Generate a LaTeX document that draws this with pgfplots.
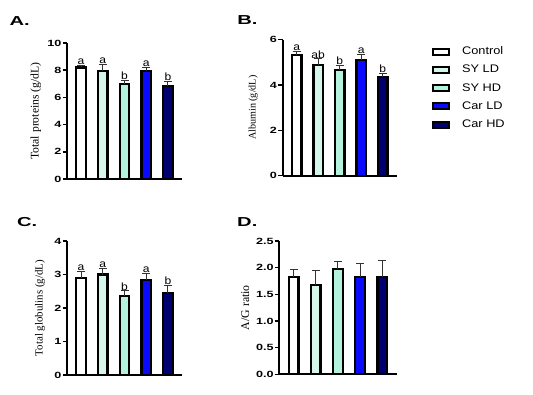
\documentclass[border=0pt]{standalone}
\usepackage{fontspec}
\setmainfont{Liberation Serif}
\newfontfamily\arial{Liberation Sans}
\newfontfamily\arialw[FakeStretch=1.4]{Liberation Sans}
\newfontfamily\arialp[FakeStretch=1.55]{Liberation Sans}
\newfontfamily\ariall[FakeStretch=1.16]{Liberation Sans}
\newfontfamily\arialt[FakeStretch=1.15]{Liberation Sans}
\usepackage{pgfplots}
\pgfplotsset{compat=1.18}
\definecolor{syld}{HTML}{D4F7EA}
\definecolor{syhd}{HTML}{B3F2DD}
\definecolor{carld}{HTML}{0A0AFF}
\definecolor{carhd}{HTML}{000070}
\tikzset{plab/.style={anchor=west, inner sep=0pt, font=\arialp\bfseries\fontsize{13}{13}\selectfont}}
\pgfplotsset{
 panel/.style={
  scale only axis, width=115pt, height=136pt, anchor=south west,
  axis lines*=left, axis line style={line width=1.7pt,-},
  xmin=-0.65, xmax=4.65, ymin=0, xtick=\empty,
  ytick style={line width=1.5pt, black}, major tick length=4.5pt, tick align=outside,
  tick label style={font=\arialw\bfseries\fontsize{9}{9}\selectfont},
  /pgf/number format/assume math mode=true,
  yticklabel style={inner sep=1pt},
  ylabel style={anchor=center},
  clip=false,
  legend image code/.code={\draw[##1, line width=2pt] (0pt,-3pt) rectangle (16pt,3pt);},
 },
 bar/.style={ybar, bar width=9.5pt, bar shift=0pt, draw=black, line width=2.2pt,
  error bars/y dir=plus, error bars/y explicit,
  error bars/error bar style={line width=1pt, black!80},
  error bars/error mark options={rotate=90, line width=1pt, mark size=4pt, black!80}},
 lett/.style={draw=none, forget plot, nodes near coords, point meta=explicit symbolic,
  nodes near coords style={anchor=south, inner sep=0.6pt, font=\arialt\fontsize{10.5}{10}\selectfont}},
}
\begin{document}
\begin{tikzpicture}
\useasboundingbox (0,0) rectangle (533pt,394pt);
% A
\begin{axis}[panel, at={(67pt,215pt)}, ymax=10, ytick={0,2,...,10},
  ylabel={Total proteins (g/dL)},
  ylabel style={at={(axis description cs:-0.27,0.5)}, font=\fontsize{11.7}{12}\selectfont}]
\addplot[fill=white, bar] coordinates {(0,8.2) +- (0,0.18)};
\addplot[fill=syld, bar] coordinates {(1,7.92) +- (0,0.5)};
\addplot[fill=syhd, bar] coordinates {(2,7.0) +- (0,0.22)};
\addplot[fill=carld, bar] coordinates {(3,7.97) +- (0,0.2)};
\addplot[fill=carhd, bar] coordinates {(4,6.82) +- (0,0.32)};
\addplot[lett] coordinates {(0,8.38)[a] (1,8.42)[a] (2,7.22)[b] (3,8.17)[a] (4,7.14)[b]};
\node[plab] at (axis description cs:-0.50,1.16) {A.};
\end{axis}
% B
\begin{axis}[panel, at={(282.7pt,218.3pt)}, width=114pt, ymax=6, ytick={0,2,4,6},
  ylabel={Albumin (g/dL)},
  ylabel style={at={(axis description cs:-0.258,0.5)}, font=\fontsize{10.1}{12}\selectfont},
  legend style={at={(axis description cs:1.283,0.965)}, anchor=north west, draw=none, fill=none,
   font=\ariall\fontsize{11}{12}\selectfont, row sep=8.25pt,
   nodes={inner sep=0pt, text height=8pt, text depth=2pt},
   /tikz/every odd column/.append style={column sep=12pt}},
  legend cell align=left]
\addplot[fill=white, bar] coordinates {(0,5.31) +- (0,0.18)};
\addplot[fill=syld, bar] coordinates {(1,4.87) +- (0,0.28)};
\addplot[fill=syhd, bar] coordinates {(2,4.65) +- (0,0.22)};
\addplot[fill=carld, bar] coordinates {(3,5.1) +- (0,0.24)};
\addplot[fill=carhd, bar] coordinates {(4,4.35) +- (0,0.15)};
\addplot[lett] coordinates {(0,5.49)[a] (1,5.15)[ab] (2,4.87)[b] (3,5.34)[a] (4,4.5)[b]};
\legend{Control, SY LD, SY HD, Car LD, Car HD}
\node[plab] at (axis description cs:-0.40,1.147) {B.};
\end{axis}
% C
\begin{axis}[panel, at={(67pt,19pt)}, height=134pt, ymax=4, ytick={0,1,2,3,4},
  ylabel={Total globulins (g/dL)},
  ylabel style={at={(axis description cs:-0.235,0.5)}, font=\fontsize{10.9}{12}\selectfont}]
\addplot[fill=white, bar] coordinates {(0,2.89) +- (0,0.19)};
\addplot[fill=syld, bar] coordinates {(1,3.0) +- (0,0.18)};
\addplot[fill=syhd, bar] coordinates {(2,2.37) +- (0,0.14)};
\addplot[fill=carld, bar] coordinates {(3,2.84) +- (0,0.19)};
\addplot[fill=carhd, bar] coordinates {(4,2.44) +- (0,0.23)};
\addplot[lett] coordinates {(0,3.08)[a] (1,3.18)[a] (2,2.51)[b] (3,3.03)[a] (4,2.67)[b]};
\node[plab] at (axis description cs:-0.435,1.142) {C.};
\end{axis}
% D
\begin{axis}[panel, at={(279.3pt,19.7pt)}, width=117.4pt, height=133.3pt, ymax=2.5,
  ytick={0,0.5,...,2.5},
  yticklabel style={/pgf/number format/.cd, fixed, fixed zerofill, precision=1},
  ylabel={A/G ratio},
  ylabel style={at={(axis description cs:-0.29,0.5)}, font=\fontsize{11.8}{12}\selectfont}]
\addplot[fill=white, bar] coordinates {(0,1.83) +- (0,0.14)};
\addplot[fill=syld, bar] coordinates {(1,1.675) +- (0,0.265)};
\addplot[fill=syhd, bar] coordinates {(2,1.97) +- (0,0.14)};
\addplot[fill=carld, bar] coordinates {(3,1.83) +- (0,0.24)};
\addplot[fill=carhd, bar] coordinates {(4,1.83) +- (0,0.30)};
\node[plab] at (axis description cs:-0.36,1.143) {D.};
\end{axis}
\end{tikzpicture}
\end{document}
